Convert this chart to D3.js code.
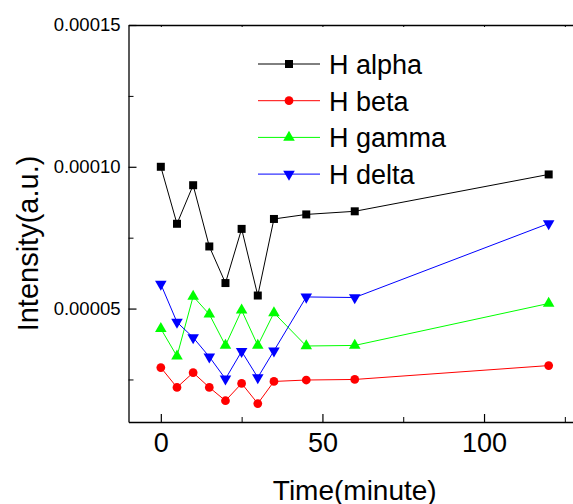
<!DOCTYPE html>
<html>
<head>
<meta charset="utf-8">
<script src="https://cdn.jsdelivr.net/npm/d3@7"></script>
<style>
  html, body { margin: 0; padding: 0; background: #fff; overflow: hidden; }
  text { font-family: "Liberation Sans", Arial, sans-serif; }
</style>
</head>
<body>
<div id="chart"></div>
<script>
// data
var time = [0, 5, 10, 15, 20, 25, 30, 35, 45, 60, 120];
var hAlpha = [10.0e-5, 7.99e-5, 9.35e-5, 7.19e-5, 5.90e-5, 7.81e-5, 5.46e-5, 8.16e-5, 8.32e-5, 8.43e-5, 9.73e-5];
var hBeta = [2.92e-5, 2.22e-5, 2.74e-5, 2.22e-5, 1.75e-5, 2.36e-5, 1.65e-5, 2.43e-5, 2.48e-5, 2.50e-5, 2.99e-5];
var hGamma = [4.29e-5, 3.32e-5, 5.43e-5, 4.80e-5, 3.70e-5, 4.94e-5, 3.70e-5, 4.85e-5, 3.68e-5, 3.70e-5, 5.18e-5];
var hDelta = [5.86e-5, 4.52e-5, 3.98e-5, 3.30e-5, 2.52e-5, 3.49e-5, 2.57e-5, 3.51e-5, 5.41e-5, 5.39e-5, 8.0e-5];
var seriesNames = ['H alpha', 'H beta', 'H gamma', 'H delta'];
var xMajorTicks = [0, 50, 100];
var xMinorTicks = [25, 75, 125];
var yMajorTicks = [0.00005, 0.00010, 0.00015];
var yMinorTicks = [0.000025, 0.000075, 0.000125];

var width = 573, height = 504;
var pLeft = 128.5, pRight = 581, pTop = 25, pBottom = 422;

var series = [
  { name: seriesNames[0], values: hAlpha, color: '#000000', symbol: d3.symbolSquare, size: 64, rot: 0 },
  { name: seriesNames[1], values: hBeta, color: '#ff0000', symbol: d3.symbolCircle, size: 60, rot: 0 },
  { name: seriesNames[2], values: hGamma, color: '#00ff00', symbol: d3.symbolTriangle, size: 58, rot: 0 },
  { name: seriesNames[3], values: hDelta, color: '#0000ff', symbol: d3.symbolTriangle, size: 58, rot: 180 }
];

var x = d3.scaleLinear().domain([-10, 130]).range([pLeft, pRight]);
var y = d3.scaleLinear().domain([0.00001, 0.00015]).range([pBottom, pTop]);

var svg = d3.select('#chart').append('svg')
  .attr('width', width)
  .attr('height', height);

// axes
var fmt = d3.format('.5f');
svg.append('g')
  .attr('transform', 'translate(0,' + pBottom + ')')
  .call(d3.axisBottom(x).tickValues(xMajorTicks).tickSizeInner(-8).tickSizeOuter(0).tickPadding(11).tickFormat(d3.format('d')))
  .call(function (g) {
    g.select('.domain').attr('stroke-width', 1.3);
    g.selectAll('.tick line').attr('stroke-width', 1.2);
    g.selectAll('.tick text').attr('font-size', 27).attr('fill', '#000');
  });
svg.append('g')
  .attr('transform', 'translate(0,' + pBottom + ')')
  .call(d3.axisBottom(x).tickValues(xMinorTicks).tickSizeInner(-5).tickSizeOuter(0).tickFormat(''))
  .call(function (g) { g.select('.domain').remove(); });

svg.append('g')
  .attr('transform', 'translate(' + pLeft + ',0)')
  .call(d3.axisLeft(y).tickValues(yMajorTicks).tickSizeInner(-8).tickSizeOuter(0).tickPadding(8).tickFormat(fmt))
  .call(function (g) {
    g.select('.domain').attr('stroke-width', 1.3);
    g.selectAll('.tick line').attr('stroke-width', 1.2);
    g.selectAll('.tick text').attr('font-size', 18.5).attr('fill', '#000');
  });
svg.append('g')
  .attr('transform', 'translate(' + pLeft + ',0)')
  .call(d3.axisLeft(y).tickValues(yMinorTicks).tickSizeInner(-5).tickSizeOuter(0).tickFormat(''))
  .call(function (g) { g.select('.domain').remove(); });

// top and right frame
svg.append('g')
  .attr('transform', 'translate(0,' + pTop + ')')
  .call(d3.axisTop(x).tickValues(xMajorTicks.concat(xMinorTicks)).tickSizeInner(-2).tickSizeOuter(0).tickFormat(''))
  .call(function (g) { g.select('.domain').attr('stroke-width', 1.3); });
svg.append('g')
  .attr('transform', 'translate(' + pRight + ',0)')
  .call(d3.axisRight(y).tickValues(yMajorTicks.concat(yMinorTicks)).tickSizeInner(-2).tickSizeOuter(0).tickFormat(''))
  .call(function (g) { g.select('.domain').attr('stroke-width', 1.3); });

// titles
svg.append('text')
  .attr('x', (pLeft + pRight) / 2)
  .attr('y', 500)
  .attr('text-anchor', 'middle')
  .attr('font-size', 28)
  .text('Time(minute)');
svg.append('text')
  .attr('transform', 'translate(38,243.5) rotate(-90)')
  .attr('text-anchor', 'middle')
  .attr('font-size', 29)
  .text('Intensity(a.u.)');

// lines and markers
var line = d3.line()
  .x(function (d, i) { return x(time[i]); })
  .y(function (d) { return y(d); });

series.forEach(function (s) {
  var g = svg.append('g');
  g.append('path')
    .attr('d', line(s.values))
    .attr('fill', 'none')
    .attr('stroke', s.color)
    .attr('stroke-width', 1);
  g.selectAll('path.pt')
    .data(s.values)
    .enter()
    .append('path')
    .attr('class', 'pt')
    .attr('d', d3.symbol().type(s.symbol).size(s.size))
    .attr('fill', s.color)
    .attr('transform', function (d, i) {
      return 'translate(' + x(time[i]) + ',' + y(d) + ') rotate(' + s.rot + ')';
    });
});

// legend
var legend = svg.append('g');
series.forEach(function (s, i) {
  var ly = 64 + i * 36.7;
  legend.append('line')
    .attr('x1', 258).attr('x2', 320)
    .attr('y1', ly).attr('y2', ly)
    .attr('stroke', s.color)
    .attr('stroke-width', 1);
  legend.append('path')
    .attr('d', d3.symbol().type(s.symbol).size(s.size))
    .attr('fill', s.color)
    .attr('transform', 'translate(289,' + ly + ') rotate(' + s.rot + ')');
  legend.append('text')
    .attr('x', 329)
    .attr('y', ly + 10)
    .attr('font-size', 27)
    .text(s.name);
});
</script>
</body>
</html>
